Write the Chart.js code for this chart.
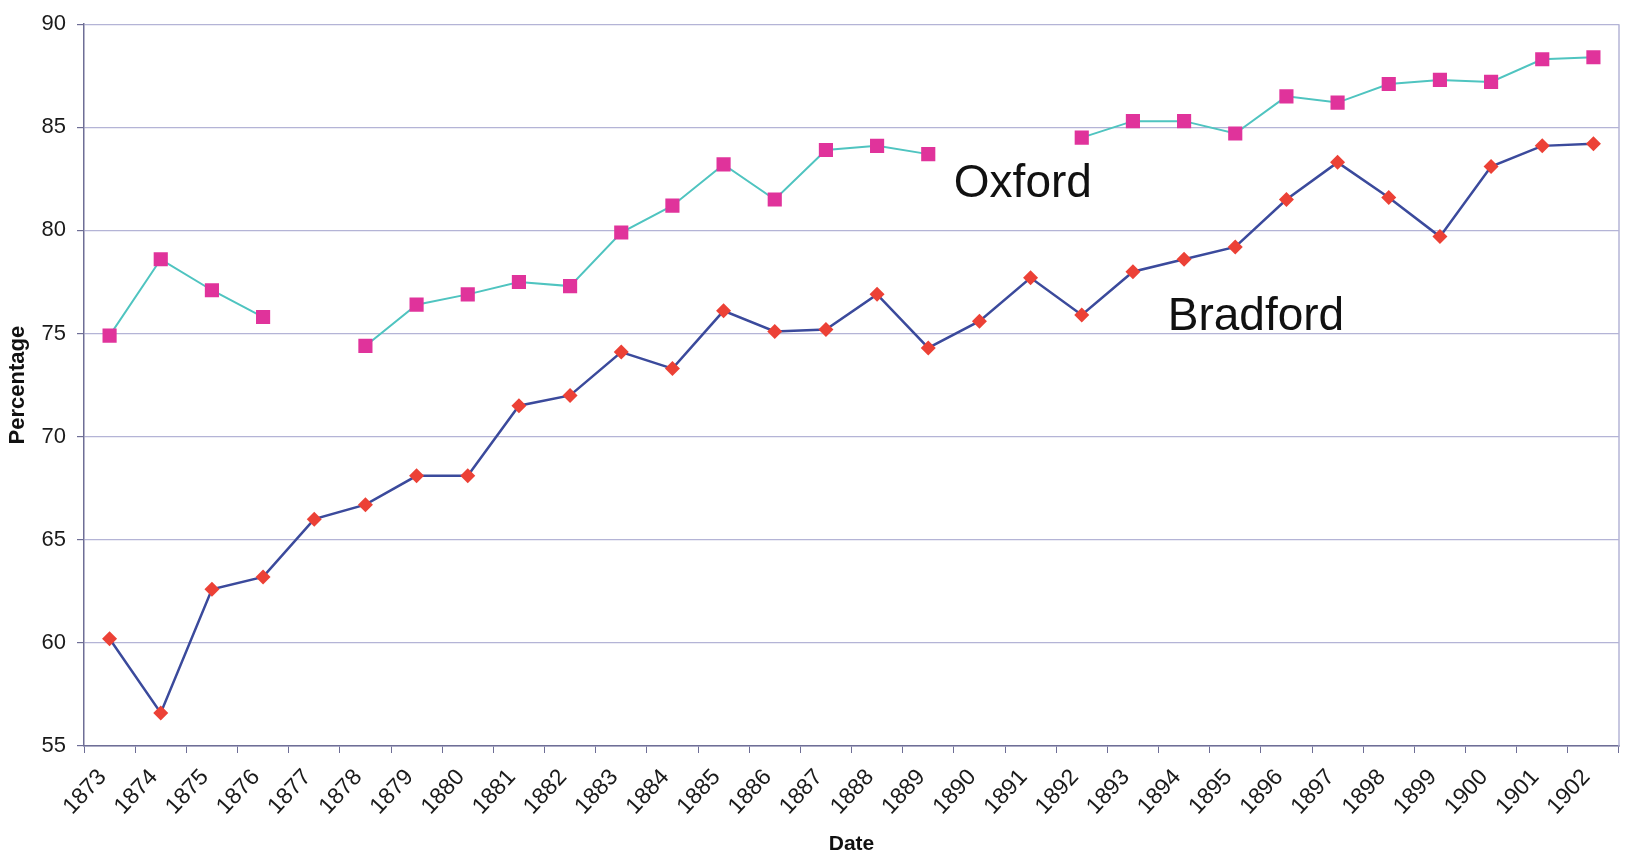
<!DOCTYPE html>
<html>
<head>
<meta charset="utf-8">
<script src="https://cdn.jsdelivr.net/npm/chart.js@4/dist/chart.umd.min.js"></script>
<style>
html,body{margin:0;padding:0;background:#fff;}
#wrap{width:1629px;height:855px;position:relative;}
</style>
</head>
<body>
<div id="wrap"><canvas id="c" width="1629" height="855"></canvas></div>
<script>
// ---- Data ----
const years = ['1873','1874','1875','1876','1877','1878','1879','1880','1881','1882',
               '1883','1884','1885','1886','1887','1888','1889','1890','1891','1892',
               '1893','1894','1895','1896','1897','1898','1899','1900','1901','1902'];
const oxford = [74.9, 78.6, 77.1, 75.8, null, 74.4, 76.4, 76.9, 77.5, 77.3,
                79.9, 81.2, 83.2, 81.5, 83.9, 84.1, 83.7, null, null, 84.5,
                85.3, 85.3, 84.7, 86.5, 86.2, 87.1, 87.3, 87.2, 88.3, 88.4];
const bradford = [60.2, 56.6, 62.6, 63.2, 66.0, 66.7, 68.1, 68.1, 71.5, 72.0,
                  74.1, 73.3, 76.1, 75.1, 75.2, 76.9, 74.3, 75.6, 77.7, 75.9,
                  78.0, 78.6, 79.2, 81.5, 83.3, 81.6, 79.7, 83.1, 84.1, 84.2];
const yTickValues = [55, 60, 65, 70, 75, 80, 85, 90];
const seriesNames = ['Oxford', 'Bradford'];

// label placement (in data coordinates: category index, value)
const labelPlacement = [
  {text: seriesNames[0], xIndex: 16.5, y: 81.6},
  {text: seriesNames[1], xIndex: 20.68, y: 75.15}
];

const FONT = '"Liberation Sans", Arial, Helvetica, sans-serif';
const gridColor = '#b4b4d6';
const axisColor = '#6e6e96';

const seriesLabelPlugin = {
  id: 'seriesLabels',
  afterDatasetsDraw(chart) {
    const {ctx, scales: {x, y}} = chart;
    ctx.save();
    ctx.font = '46px ' + FONT;
    ctx.fillStyle = '#111';
    ctx.textAlign = 'left';
    ctx.textBaseline = 'alphabetic';
    labelPlacement.forEach(l => {
      ctx.fillText(l.text, x.getPixelForValue(l.xIndex), y.getPixelForValue(l.y));
    });
    ctx.restore();
  }
};

const rightBorderPlugin = {
  id: 'rightBorder',
  beforeDatasetsDraw(chart) {
    const {ctx, chartArea: a} = chart;
    ctx.save();
    ctx.strokeStyle = gridColor;
    ctx.lineWidth = 1.5;
    ctx.beginPath();
    ctx.moveTo(a.right, a.top);
    ctx.lineTo(a.right, a.bottom);
    ctx.stroke();
    ctx.restore();
  }
};

new Chart(document.getElementById('c'), {
  type: 'line',
  data: {
    labels: years,
    datasets: [
      {
        label: seriesNames[0],
        data: oxford,
        borderColor: '#4fc4c0',
        borderWidth: 2,
        pointStyle: 'rect',
        pointRadius: 10,
        pointBackgroundColor: '#e0339b',
        pointBorderColor: '#e0339b',
        pointBorderWidth: 0,
        tension: 0,
        spanGaps: false
      },
      {
        label: seriesNames[1],
        data: bradford,
        borderColor: '#3b4a9c',
        borderWidth: 2.5,
        pointStyle: 'rectRot',
        pointRadius: 7.5,
        pointBackgroundColor: '#ec4136',
        pointBorderColor: '#ec4136',
        pointBorderWidth: 0,
        tension: 0,
        spanGaps: false
      }
    ]
  },
  options: {
    responsive: false,
    animation: false,
    devicePixelRatio: 1,
    layout: {padding: {top: 21, right: 5, left: 0, bottom: 0}},
    plugins: {
      legend: {display: false},
      tooltip: {enabled: false}
    },
    scales: {
      x: {
        type: 'category',
        offset: true,
        afterFit(scale) { scale.height = 109; },
        grid: {
          offset: true,
          drawOnChartArea: false,
          drawTicks: true,
          tickLength: 7,
          tickColor: axisColor,
          color: axisColor
        },
        border: {display: true, color: axisColor, width: 1.5},
        ticks: {
          autoSkip: false,
          minRotation: 47,
          maxRotation: 47,
          labelOffset: -7,
          padding: 11,
          color: '#1a1a1a',
          font: {family: FONT, size: 23}
        },
        title: {
          display: true,
          text: 'Date',
          color: '#111',
          font: {family: FONT, size: 21, weight: 'bold'},
          padding: {top: 0, bottom: -2}
        }
      },
      y: {
        min: 55,
        max: 90,
        afterFit(scale) { scale.width = 84; },
        afterBuildTicks(scale) { scale.ticks = yTickValues.map(v => ({value: v})); },
        grid: {
          color: gridColor,
          lineWidth: 1.2,
          drawTicks: true,
          tickLength: 7,
          tickColor: axisColor
        },
        border: {display: true, color: axisColor, width: 1.5},
        ticks: {
          padding: 11,
          color: '#1a1a1a',
          font: {family: FONT, size: 22}
        },
        title: {
          display: true,
          text: 'Percentage',
          color: '#111',
          font: {family: FONT, size: 22, weight: 'bold'},
          padding: {top: 5, bottom: 0}
        }
      }
    }
  },
  plugins: [rightBorderPlugin, seriesLabelPlugin]
});
</script>
</body>
</html>
